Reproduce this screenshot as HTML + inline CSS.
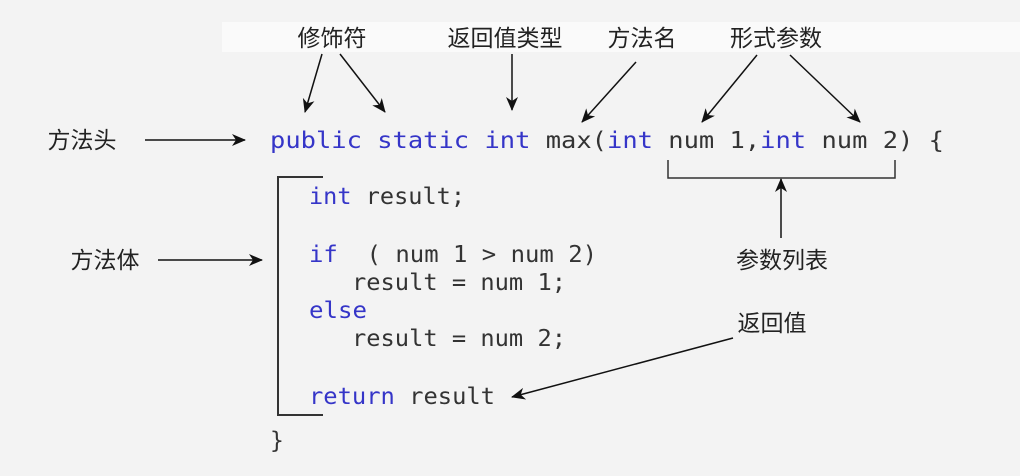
<!DOCTYPE html>
<html><head><meta charset="utf-8"><style>
html,body{margin:0;padding:0;background:#f3f3f3;}
svg{display:block}
.c{font-family:"Liberation Sans","Noto Sans CJK SC",sans-serif;font-size:23px;fill:#222}
.m{font-family:"DejaVu Sans Mono","Liberation Mono",monospace;font-size:23px;fill:#333}
.b{fill:#3535c8}
</style></head><body>
<svg width="1020" height="476" viewBox="0 0 1020 476" xmlns="http://www.w3.org/2000/svg">
<defs><marker id="a" markerWidth="14" markerHeight="14" refX="13" refY="6" orient="auto" markerUnits="userSpaceOnUse" viewBox="0 0 14 12"><path d="M0,0 L14,6 L0,12 L4,6 z" fill="#111"/></marker></defs>
<rect x="0" y="0" width="1020" height="476" fill="#f3f3f3"/>
<rect x="222" y="22" width="798" height="30" fill="#fafafa"/>
<g class="c" text-anchor="middle">
<text x="332" y="46">修饰符</text>
<text x="505" y="46">返回值类型</text>
<text x="642" y="46">方法名</text>
<text x="776" y="46">形式参数</text>
<text x="82" y="148">方法头</text>
<text x="105" y="268">方法体</text>
<text x="782" y="268">参数列表</text>
<text x="772" y="331">返回值</text>
</g>
<g stroke="#111" stroke-width="1.5" fill="none" marker-end="url(#a)">
<line x1="322" y1="54" x2="305" y2="112"/>
<line x1="340" y1="54" x2="385" y2="112"/>
<line x1="512" y1="54" x2="512" y2="110"/>
<line x1="636" y1="62" x2="582" y2="122"/>
<line x1="757" y1="55" x2="702" y2="122"/>
<line x1="790" y1="55" x2="860" y2="122"/>
<line x1="145" y1="140" x2="245" y2="140"/>
<line x1="158" y1="260" x2="262" y2="260"/>
<line x1="781" y1="238" x2="781" y2="179"/>
<line x1="733" y1="338" x2="512" y2="397"/>
</g>
<g stroke="#333" stroke-width="1.5" fill="none">
<polyline points="323,177 278,177 278,415 323,415" stroke-width="2"/>
<polyline points="668,160 668,178 895,178 895,160"/>
</g>
<text class="m" x="270" y="148" textLength="674" lengthAdjust="spacingAndGlyphs"><tspan class="b">public static int</tspan> max(<tspan class="b">int</tspan> num 1,<tspan class="b">int</tspan> num 2) {</text>
<text class="m" x="309" y="204" textLength="156" lengthAdjust="spacingAndGlyphs"><tspan class="b">int</tspan> result;</text>
<text class="m" x="309" y="262" xml:space="preserve" textLength="288" lengthAdjust="spacingAndGlyphs"><tspan class="b">if</tspan>  ( num 1 &gt; num 2)</text>
<text class="m" x="352" y="290" textLength="214" lengthAdjust="spacingAndGlyphs">result = num 1;</text>
<text class="m b" x="309" y="318" textLength="58" lengthAdjust="spacingAndGlyphs">else</text>
<text class="m" x="352" y="346" textLength="214" lengthAdjust="spacingAndGlyphs">result = num 2;</text>
<text class="m" x="309" y="404" textLength="186" lengthAdjust="spacingAndGlyphs"><tspan class="b">return</tspan> result</text>
<text class="m" x="270" y="448">}</text>
</svg>
</body></html>
